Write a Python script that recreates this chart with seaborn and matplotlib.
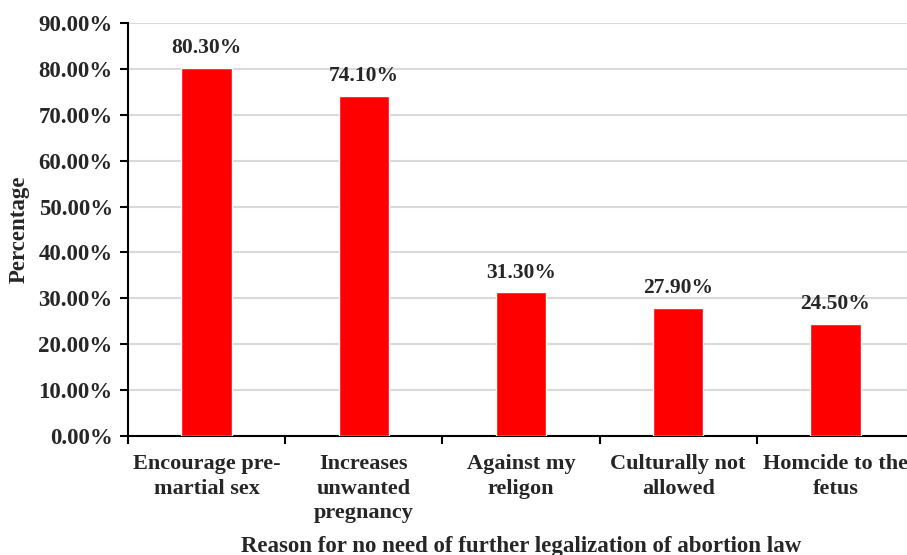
import matplotlib
matplotlib.use("Agg")
import matplotlib.pyplot as plt
import seaborn as sns
import pandas as pd
import numpy as np
from matplotlib.ticker import FuncFormatter, FixedLocator

reasons = ["Encourage pre-\nmartial sex", "Increases\nunwanted\npregnancy",
           "Against my\nreligon", "Culturally not\nallowed", "Homcide to the\nfetus"]
percentages = [80.30, 74.10, 31.30, 27.90, 24.50]
y_ticks = [0, 10, 20, 30, 40, 50, 60, 70, 80, 90]

df = pd.DataFrame({"reason": reasons, "pct": percentages})

sns.set_theme(style="white")
plt.rcParams["font.family"] = ["Liberation Serif", "DejaVu Serif"]
plt.rcParams["font.weight"] = "bold"

fig = plt.figure(figsize=(9.07, 5.55), dpi=100)
ax = fig.add_axes([128 / 907, 1 - 436 / 555, 786 / 907, (436 - 23) / 555])

sns.barplot(data=df, x="reason", y="pct", color="#ff0000", saturation=1,
            width=0.32, ax=ax, zorder=3)

ax.set_ylim(0, 90)
ax.set_xlim(-0.5, len(reasons) - 0.5)
ax.yaxis.set_major_locator(FixedLocator(y_ticks))
ax.yaxis.set_major_formatter(FuncFormatter(lambda v, _: f"{v:.2f}%"))
ax.grid(axis="y", color="#d9d9d9", linewidth=1.5, zorder=0)
ax.set_axisbelow(True)

for s in ["top", "right"]:
    ax.spines[s].set_visible(False)
for s in ["left", "bottom"]:
    ax.spines[s].set_color("black")
    ax.spines[s].set_linewidth(1.5)

# category labels at bar centres, tick marks at category boundaries
ax.set_xticks(range(len(reasons)))
ax.set_xticklabels(reasons, fontsize=16, fontweight="bold", linespacing=1.3)
ax.tick_params(axis="x", which="major", length=0, pad=13)
ax.set_xticks(np.arange(-0.5, len(reasons) + 0.5, 1), minor=True)
ax.tick_params(axis="x", which="minor", length=6, width=1.5, color="black", direction="out", bottom=True)
ax.tick_params(axis="y", length=6, width=1.5, color="black", direction="out", left=True,
               labelsize=16.5, pad=5)
for lbl in ax.get_yticklabels():
    lbl.set_fontweight("bold")

for i, v in enumerate(percentages):
    ax.annotate(f"{v:.2f}%", (i, v), xytext=(0, 7), textcoords="offset points",
                ha="center", va="bottom", fontsize=15.5, fontweight="bold")

ax.set_xlabel("Reason for no need of further legalization of abortion law",
              fontsize=16.5, fontweight="bold", labelpad=9)
ax.set_ylabel("Percentage", fontsize=16.5, fontweight="bold", labelpad=6)

fig.savefig("out.png", dpi=100)
